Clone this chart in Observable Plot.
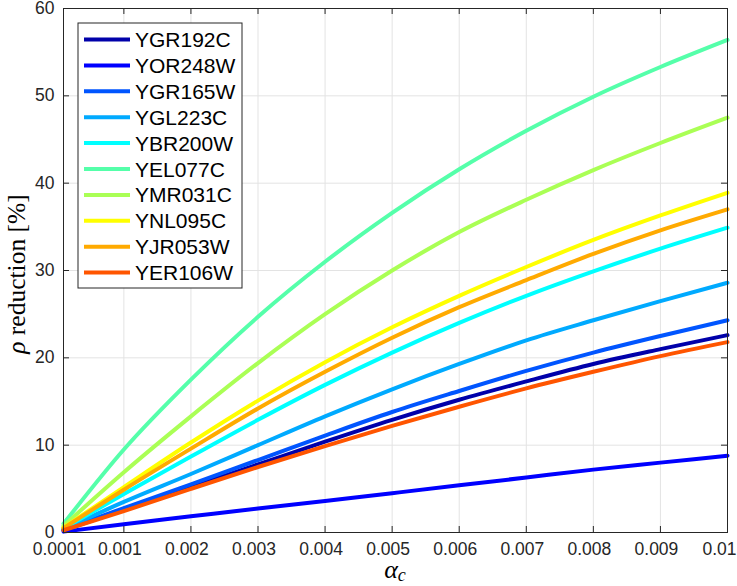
<!DOCTYPE html>
<html>
<head>
<meta charset="utf-8">
<script src="https://cdn.jsdelivr.net/npm/d3@7"></script>
<script src="https://cdn.jsdelivr.net/npm/@observablehq/plot@0.6"></script>
<style>
  body { margin: 0; background: #fff; }
  #chart { position: relative; width: 737px; height: 586px; }
</style>
</head>
<body>
<div id="chart"></div>
<script>
// ---- data ----
const alphaC = [0.0001, 0.001, 0.002, 0.003, 0.004, 0.005, 0.006, 0.007, 0.008, 0.009, 0.01];
const xTicks = [0.0001, 0.001, 0.002, 0.003, 0.004, 0.005, 0.006, 0.007, 0.008, 0.009, 0.01];
const xTickLabels = ["0.0001", "0.001", "0.002", "0.003", "0.004", "0.005", "0.006", "0.007", "0.008", "0.009", "0.01"];
const yTicks = [0, 10, 20, 30, 40, 50, 60];

const series = ["YGR192C", "YOR248W", "YGR165W", "YGL223C", "YBR200W", "YEL077C", "YMR031C", "YNL095C", "YJR053W", "YER106W"];
const colors = ["#0000aa", "#0000ff", "#0055ff", "#00aaff", "#00ffff", "#55ffaa", "#aaff55", "#ffff00", "#ffaa00", "#ff5500"];

const YGR192C = [0.28, 2.6, 5.2, 7.8, 10.4, 12.9, 15.2, 17.3, 19.3, 21.0, 22.6];
const YOR248W = [0.1, 0.95, 1.85, 2.75, 3.6, 4.5, 5.4, 6.3, 7.2, 8.0, 8.8];
const YGR165W = [0.3, 2.8, 5.5, 8.3, 11.1, 13.8, 16.2, 18.5, 20.6, 22.5, 24.3];
const YGL223C = [0.37, 3.5, 6.7, 10.0, 13.3, 16.4, 19.3, 22.0, 24.3, 26.5, 28.6];
const YBR200W = [0.45, 4.4, 8.7, 12.9, 16.9, 20.6, 24.0, 27.1, 29.9, 32.5, 34.9];
const YEL077C = [1.0, 9.5, 17.5, 24.7, 31.0, 36.6, 41.6, 46.0, 49.9, 53.3, 56.4];
const YMR031C = [0.75, 6.9, 13.3, 19.4, 25.0, 30.0, 34.4, 38.1, 41.5, 44.6, 47.5];
const YNL095C = [0.55, 5.2, 10.3, 15.1, 19.5, 23.5, 27.1, 30.4, 33.5, 36.3, 38.9];
const YJR053W = [0.5, 4.9, 9.6, 14.2, 18.4, 22.3, 25.8, 28.9, 31.9, 34.6, 37.0];
const YER106W = [0.26, 2.45, 5.0, 7.5, 9.9, 12.2, 14.4, 16.5, 18.4, 20.2, 21.8];

const valuesBySeries = {YGR192C, YOR248W, YGR165W, YGL223C, YBR200W, YEL077C, YMR031C, YNL095C, YJR053W, YER106W};
const rows = series.flatMap(s => valuesBySeries[s].map((v, i) => ({series: s, x: alphaC[i], y: v})));

// ---- layout ----
const W = 737, H = 586, mL = 63, mR = 10, mT = 8, mB = 54;
const pw = W - mL - mR, ph = H - mT - mB;
const axisColor = "#262626";
const sans = "'Liberation Sans', Arial, sans-serif";
const label = d => xTickLabels[xTicks.indexOf(d)];
const innerTicks = xTicks.slice(0, -1);
const lastTick = xTicks.slice(-1);

const chart = Plot.plot({
  width: W, height: H,
  marginLeft: mL, marginRight: mR, marginTop: mT, marginBottom: mB,
  style: {fontFamily: sans, fontSize: "17.5px", color: axisColor, background: "#fff", overflow: "visible"},
  x: {domain: [0.0001, 0.01]},
  y: {domain: [0, 60]},
  color: {domain: series, range: colors},
  marks: [
    Plot.gridX(xTicks, {stroke: "#e3e3e3", strokeOpacity: 1}),
    Plot.gridY(yTicks, {stroke: "#e3e3e3", strokeOpacity: 1}),
    Plot.axisX(innerTicks, {tickSize: 0, tickPadding: 10, dx: -4, fontSize: 17.5, tickFormat: label, label: null, fill: axisColor}),
    Plot.axisX(lastTick, {tickSize: 0, tickPadding: 10, dx: -8, fontSize: 17.5, tickFormat: label, label: null, fill: axisColor}),
    Plot.axisY(yTicks, {tickSize: 0, tickPadding: 9, fontSize: 17.5, label: null, fill: axisColor}),
    Plot.line(rows, {x: "x", y: "y", z: "series", stroke: "series", strokeWidth: 4, curve: "monotone-x"}),
    Plot.tickX(xTicks, {x: d => d, insetTop: ph - 6, stroke: axisColor}),
    Plot.tickX(xTicks, {x: d => d, insetBottom: ph - 6, stroke: axisColor}),
    Plot.tickY(yTicks, {y: d => d, insetRight: pw - 6, stroke: axisColor}),
    Plot.tickY(yTicks, {y: d => d, insetLeft: pw - 6, stroke: axisColor}),
    Plot.frame({stroke: axisColor, strokeWidth: 1})
  ]
});

document.getElementById("chart").appendChild(chart);

// ---- legend (inside the axes, top-left) ----
const svg = d3.select(chart);
const lg = svg.append("g").attr("class", "legend").attr("text-anchor", "start");
const lx = 78, ly = 23, lw = 164, lh = 265, step = 25.9, first = 39.5;
lg.append("rect").attr("x", lx).attr("y", ly).attr("width", lw).attr("height", lh)
  .attr("fill", "#fff").attr("stroke", axisColor).attr("stroke-width", 1);
series.forEach((s, i) => {
  const yy = first + i * step;
  lg.append("line").attr("x1", 84).attr("x2", 130).attr("y1", yy).attr("y2", yy)
    .attr("stroke", colors[i]).attr("stroke-width", 4);
  lg.append("text").attr("x", 135).attr("y", yy).attr("dy", "0.36em")
    .attr("text-anchor", "start")
    .attr("font-family", sans).attr("font-size", 21)
    .attr("fill", "#000").text(s);
});

// ---- axis labels (LaTeX-like serif) ----
const yl = svg.append("text")
  .attr("transform", "translate(25,274) rotate(-90)")
  .attr("text-anchor", "middle")
  .attr("font-family", "'Liberation Serif', 'DejaVu Serif', serif")
  .attr("font-size", 25.5).attr("fill", "#000");
yl.append("tspan").attr("font-style", "italic").text("ρ");
yl.append("tspan").text(" reduction [%]");

const xl = svg.append("text")
  .attr("x", 395).attr("y", 578)
  .attr("text-anchor", "middle")
  .attr("font-family", "'Liberation Serif', 'DejaVu Serif', serif")
  .attr("fill", "#000");
xl.append("tspan").attr("font-style", "italic").attr("font-size", 26).text("α");
xl.append("tspan").attr("font-style", "italic").attr("font-size", 18).attr("dy", 3).text("c");
</script>
</body>
</html>
